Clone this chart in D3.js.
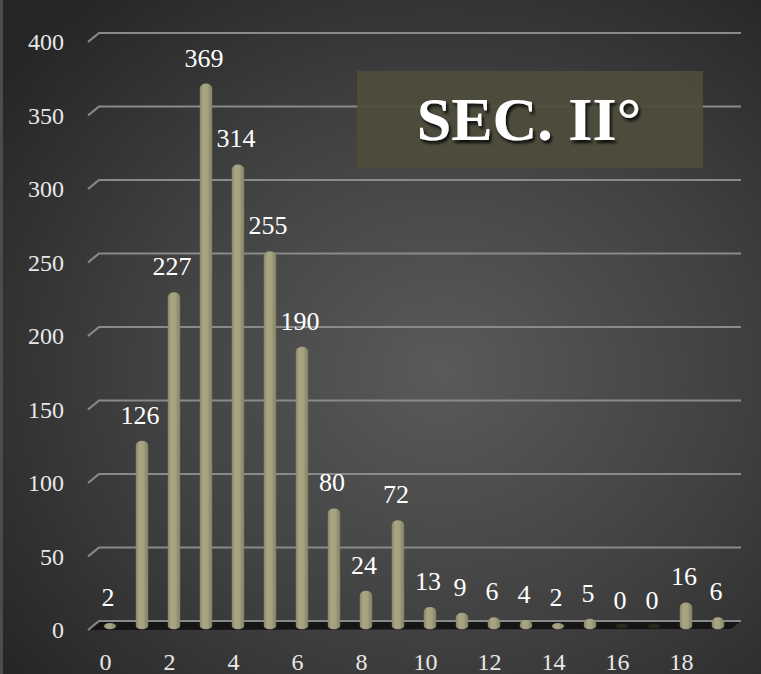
<!DOCTYPE html>
<html>
<head>
<meta charset="utf-8">
<script src="https://cdn.jsdelivr.net/npm/d3@7"></script>
<style>
  html, body { margin: 0; padding: 0; background: #2a2a2a; }
  svg { display: block; }
</style>
</head>
<body>
<div id="chart"></div>
<script>
// ---- data ----
const categories = [0,1,2,3,4,5,6,7,8,9,10,11,12,13,14,15,16,17,18,19];
const values = [2,126,227,369,314,255,190,80,24,72,13,9,6,4,2,5,0,0,16,6];
const yTicks = [0,50,100,150,200,250,300,350,400];
const xTickLabels = [0,2,4,6,8,10,12,14,16,18];
const title = "SEC. II°";

const W = 761, H = 674;
const svg = d3.select("#chart").append("svg").attr("width", W).attr("height", H);
const defs = svg.append("defs");

// background radial gradient
const bg = defs.append("radialGradient").attr("id", "bg")
  .attr("cx", 0.58).attr("cy", 0.55).attr("r", 0.72);
bg.append("stop").attr("offset", "0%").attr("stop-color", "#5a5a5a");
bg.append("stop").attr("offset", "55%").attr("stop-color", "#404040");
bg.append("stop").attr("offset", "100%").attr("stop-color", "#262626");
svg.append("rect").attr("width", W).attr("height", H).attr("fill", "url(#bg)");
svg.append("rect").attr("x", 0).attr("y", 0).attr("width", 3).attr("height", H).attr("fill", "#4c4c4c");

// bar gradient (cylinder shading)
const bg2 = defs.append("linearGradient").attr("id", "cyl").attr("x1", 0).attr("x2", 1).attr("y1", 0).attr("y2", 0);
bg2.append("stop").attr("offset", "0%").attr("stop-color", "#8a8768");
bg2.append("stop").attr("offset", "30%").attr("stop-color", "#a9a683");
bg2.append("stop").attr("offset", "60%").attr("stop-color", "#a5a27f");
bg2.append("stop").attr("offset", "100%").attr("stop-color", "#838062");

// shadow filter for title
const f = defs.append("filter").attr("id", "tshadow").attr("x", "-10%").attr("y", "-10%").attr("width", "130%").attr("height", "140%");
f.append("feDropShadow").attr("dx", 2).attr("dy", 3).attr("stdDeviation", 1.5).attr("flood-color", "#000").attr("flood-opacity", 0.85);

// scales
const x = d3.scalePoint().domain(categories).range([110, 718]);
const depth = 9;           // perspective depth (px) between front and back planes
const yBack = d3.scaleLinear().domain([0, 400]).range([621, 33]);
const yFront = v => yBack(v) + depth;
const yMid = d3.scaleLinear().domain([0, 400]).range([626, 38]);
const leftFront = 88, leftBack = 99, rightBack = 741;

// floor slab
svg.append("path")
  .attr("d", `M${leftFront},${yFront(0)} L${leftBack},${yBack(0)} L${rightBack},${yBack(0)} L${rightBack-10},${yFront(0)-1} Z`)
  .attr("fill", "#151515");

// gridlines
const grid = svg.append("g");
yTicks.forEach(t => {
  grid.append("path")
    .attr("d", `M${leftFront},${yFront(t)} L${leftBack},${yBack(t)} L${rightBack},${yBack(t)}`)
    .attr("fill", "none").attr("stroke", "#8a8a8a").attr("stroke-width", 2.2);
});

// y tick labels
svg.append("g").selectAll("text").data(yTicks).join("text")
  .attr("x", 64).attr("y", d => yFront(d))
  .attr("dy", "0.35em").attr("text-anchor", "end")
  .attr("font-family", "'Liberation Serif', 'DejaVu Serif', serif")
  .attr("font-size", 24).attr("fill", "#e8e8e8")
  .text(d => d);

// x tick labels
svg.append("g").selectAll("text").data(xTickLabels).join("text")
  .attr("x", d => x(d) - 4.5).attr("y", 670)
  .attr("text-anchor", "middle")
  .attr("font-family", "'Liberation Serif', 'DejaVu Serif', serif")
  .attr("font-size", 24).attr("fill", "#e8e8e8")
  .text(d => d);

// cylinders
const r = 6.2, ry = 3.2, capRy = 5;
const base = yMid(0);
function cylPath(v, cx) {
  const top = yMid(v);
  let capY = Math.min(top + capRy, base);
  const cr = Math.min(capRy, base - top);
  return `M${cx-r},${base} L${cx-r},${capY} A${r},${Math.max(cr,0.5)} 0 0 1 ${cx+r},${capY} L${cx+r},${base} A${r},${ry} 0 0 1 ${cx-r},${base} Z`;
}
const bars = svg.append("g");
categories.forEach((c, i) => {
  const v = values[i];
  const cx = x(c);
  if (v === 0) {
    bars.append("ellipse").attr("cx", cx).attr("cy", base).attr("rx", r).attr("ry", 2)
      .attr("fill", "#2c2b20");
  } else {
    bars.append("path").attr("d", cylPath(v, cx)).attr("fill", "url(#cyl)");
  }
});

// data labels
svg.append("g").selectAll("text").data(categories).join("text")
  .attr("x", d => x(d) - 2).attr("y", (d, i) => yMid(values[i]) - 17)
  .attr("text-anchor", "middle")
  .attr("font-family", "'Liberation Serif', 'DejaVu Serif', serif")
  .attr("font-size", 26).attr("fill", "#ffffff")
  .text((d, i) => values[i]);

// title box
svg.append("rect").attr("x", 357).attr("y", 71).attr("width", 346).attr("height", 97)
  .attr("fill", "#4d4c3c").attr("fill-opacity", 0.93);
svg.append("text").attr("x", 529).attr("y", 140)
  .attr("text-anchor", "middle")
  .attr("font-family", "'Liberation Serif', 'DejaVu Serif', serif")
  .attr("font-weight", "bold").attr("font-size", 62).attr("fill", "#ffffff")
  .attr("filter", "url(#tshadow)")
  .text(title);
</script>
</body>
</html>
